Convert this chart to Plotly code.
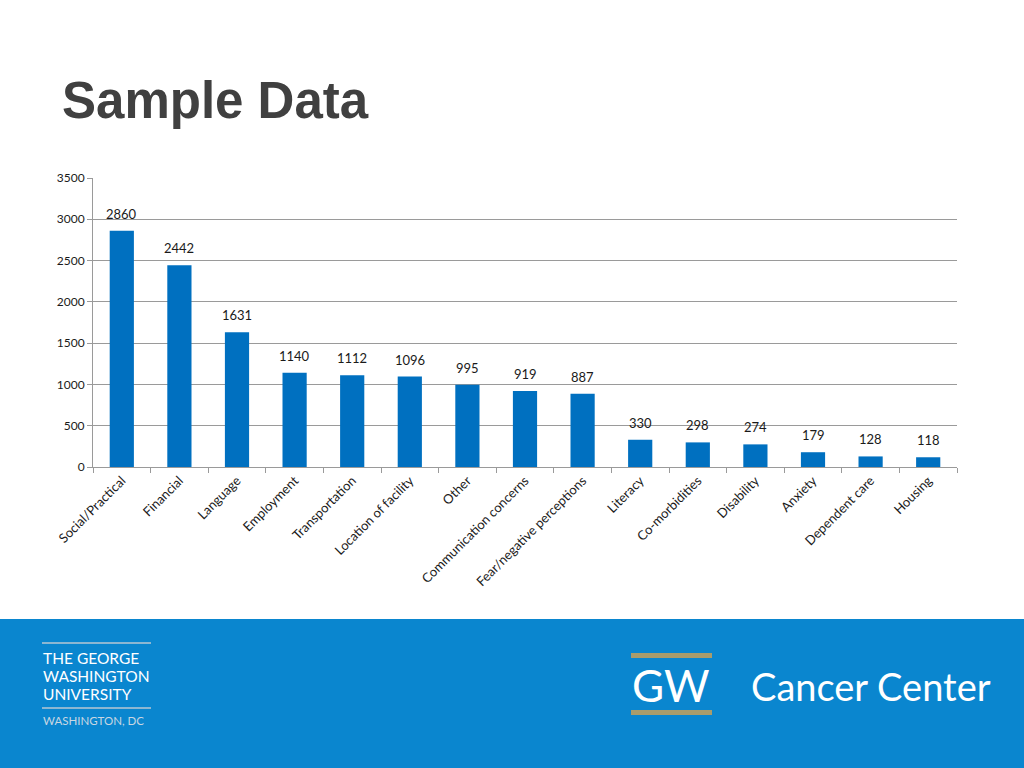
import plotly.graph_objects as go

categories = ["Social/Practical", "Financial", "Language", "Employment", "Transportation",
              "Location of facility", "Other", "Communication concerns",
              "Fear/negative perceptions", "Literacy", "Co-morbidities", "Disability",
              "Anxiety", "Dependent care", "Housing"]
values = [2860, 2442, 1631, 1140, 1112, 1096, 995, 919, 887, 330, 298, 274, 179, 128, 118]
y_ticks = [0, 500, 1000, 1500, 2000, 2500, 3000, 3500]

W, H = 1024, 768
def px(x): return x / W
def py(y): return 1 - y / H

fig = go.Figure()
fig.add_trace(go.Bar(x=categories, y=values, marker=dict(color="#0070C0", line=dict(width=0)),
                     width=0.42, hoverinfo="x+y"))

for c, v in zip(categories, values):
    fig.add_annotation(x=c, y=v, text=str(v), showarrow=False, yanchor="bottom",
                       yshift=7, font=dict(family="Lato, Open Sans, sans-serif", size=13, color="#1a1a1a"))

shapes = [
    dict(type="rect", xref="paper", yref="paper", x0=0, x1=1, y0=0, y1=py(619),
         fillcolor="#0A86CF", line=dict(width=0), layer="below"),
    # GWU logo lines
    dict(type="line", xref="paper", yref="paper", x0=px(42), x1=px(151), y0=py(643), y1=py(643),
         line=dict(color="#B9C7D3", width=1.5)),
    dict(type="line", xref="paper", yref="paper", x0=px(42), x1=px(151), y0=py(708), y1=py(708),
         line=dict(color="#B9C7D3", width=1.5)),
    # GW gold bars
    dict(type="rect", xref="paper", yref="paper", x0=px(631), x1=px(712), y0=py(658), y1=py(653),
         fillcolor="#A99C6C", line=dict(width=0)),
    dict(type="rect", xref="paper", yref="paper", x0=px(631), x1=px(712), y0=py(715), y1=py(710),
         fillcolor="#A99C6C", line=dict(width=0)),
]

ann = [
    dict(text="<b>Sample Data</b>", x=px(60), y=py(101), xanchor="left", yanchor="middle",
         font=dict(family="Liberation Sans, Arial, sans-serif", size=51, color="#404040")),
    dict(text="THE GEORGE", x=px(41), y=py(658), xanchor="left", yanchor="middle",
         font=dict(family="Lato, sans-serif", size=15.5, color="white")),
    dict(text="WASHINGTON", x=px(41), y=py(676), xanchor="left", yanchor="middle",
         font=dict(family="Lato, sans-serif", size=15.5, color="white")),
    dict(text="UNIVERSITY", x=px(41), y=py(694), xanchor="left", yanchor="middle",
         font=dict(family="Lato, sans-serif", size=15.5, color="white")),
    dict(text="WASHINGTON, DC", x=px(41), y=py(720), xanchor="left", yanchor="middle",
         font=dict(family="Lato, sans-serif", size=11.5, color="#C8D6E2")),
    dict(text="GW", x=px(671), y=py(685), xanchor="center", yanchor="middle",
         font=dict(family="Lato, sans-serif", size=44, color="white")),
    dict(text="Cancer Center", x=px(749), y=py(686), xanchor="left", yanchor="middle",
         font=dict(family="Lato, sans-serif", size=38, color="white")),
]
for a in ann:
    a.update(xref="paper", yref="paper", showarrow=False)

fig.update_layout(
    width=W, height=H, autosize=False,
    margin=dict(l=0, r=0, t=0, b=0),
    paper_bgcolor="white", plot_bgcolor="white",
    showlegend=False,
    shapes=shapes, annotations=list(fig.layout.annotations) + ann,
    xaxis=dict(domain=[px(93), px(957)], type="category", tickangle=-45, tickson="boundaries",
               ticks="outside", ticklen=5, tickcolor="#9a9a9a", showline=True, linecolor="#9a9a9a",
               linewidth=1, automargin=False,
               tickfont=dict(family="Lato, Open Sans, sans-serif", size=13, color="#1a1a1a")),
    yaxis=dict(domain=[py(467), py(178)], range=[0, 3500], tickvals=y_ticks,
               showgrid=True, gridcolor="#9a9a9a", gridwidth=1, zeroline=False,
               ticks="outside", ticklen=5, tickcolor="#9a9a9a", showline=True, linecolor="#9a9a9a",
               automargin=False,
               tickfont=dict(family="Lato, Open Sans, sans-serif", size=12, color="#1a1a1a")),
)

fig.write_html("out.html", config={"displayModeBar": False},
               post_script="document.body.style.margin='0px';document.body.style.overflow='hidden';")
